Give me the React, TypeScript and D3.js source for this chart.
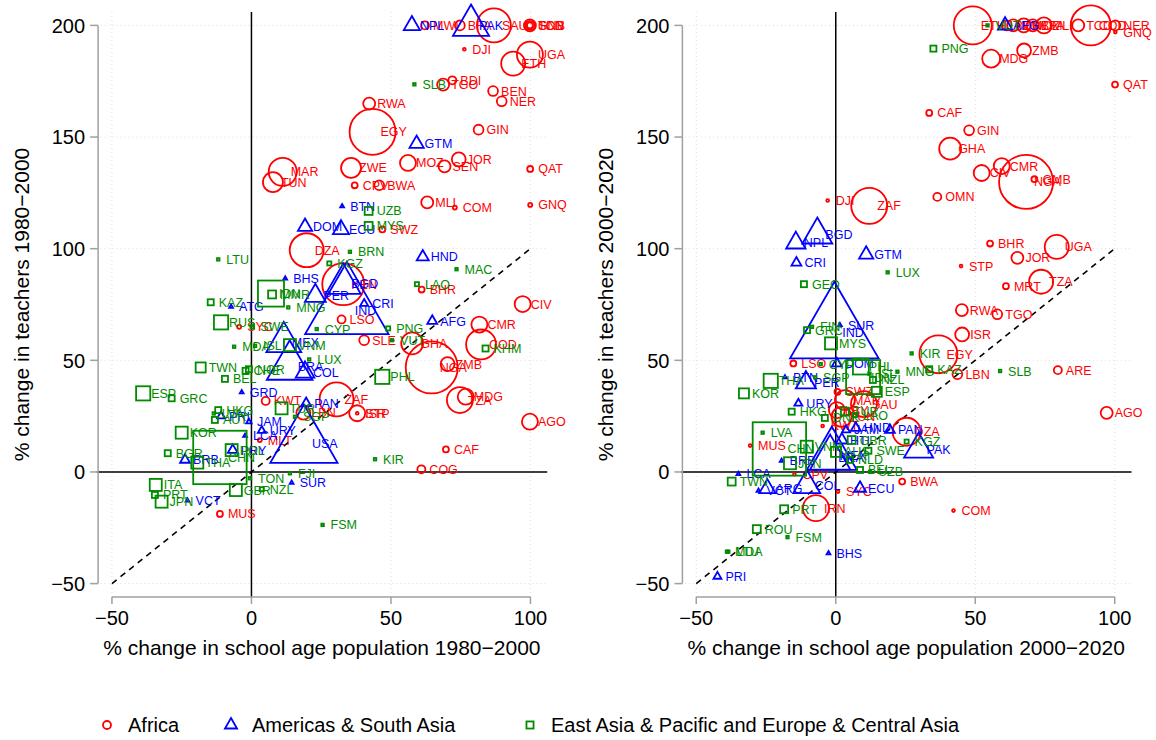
import * as d3 from 'd3';

// [country, % change school-age population, % change teachers, school-age population (m)]
type Pt = [string, number, number, number];

const africa1980: Pt[] = [
  ['MWI', 62.2, 200, 4], ['BFA', 74.7, 200, 6], ['SAU', 86.9, 200, 72],
  ['SDN', 99.8, 200, 9], ['GNB', 99.8, 200, 2.2], ['TCD', 99.8, 200, 5],
  ['DJI', 76.3, 189.3, 0.5], ['UGA', 99.8, 186.9, 42], ['ETH', 93.8, 182.9, 36],
  ['BDI', 72, 175.4, 4], ['TGO', 68.7, 173.5, 9], ['BEN', 86.6, 170.6, 6],
  ['NER', 89.7, 166, 6], ['RWA', 42.2, 165, 9], ['EGY', 43.4, 152.3, 132],
  ['GIN', 81.4, 153.3, 6], ['ZWE', 35.7, 136.2, 25], ['MOZ', 56.1, 138.4, 16],
  ['SEN', 69.2, 136.9, 9], ['JOR', 74.3, 140, 12], ['QAT', 99.9, 135.7, 2.2],
  ['CPV', 37, 128.4, 2.2], ['BWA', 45.8, 128.4, 6], ['MLI', 63, 120.7, 9],
  ['COM', 72.9, 118.4, 1], ['GNQ', 99.9, 119.6, 1], ['SWZ', 46.9, 108.6, 2.2],
  ['MAR', 11.2, 134.4, 49], ['TUN', 7.7, 129.8, 25], ['DZA', 19.8, 99.3, 72],
  ['KEN', 32.9, 84.1, 110], ['BHR', 61, 81.7, 2.2], ['LSO', 32.3, 68.3, 4],
  ['SLE', 40.4, 59, 6], ['CIV', 97.2, 75.2, 16], ['CMR', 81.7, 66, 16],
  ['COD', 82.3, 57.1, 56], ['GHA', 57.6, 57.6, 30], ['NGA', 64.6, 46.8, 169],
  ['ZMB', 70.3, 48.3, 12], ['MDG', 76.8, 33.7, 16], ['TZA', 74.7, 32.2, 42],
  ['AGO', 99.8, 22.5, 16], ['CAF', 69.7, 10.1, 2.2], ['COG', 60.9, 1.2, 4],
  ['ZAF', 30.5, 32.5, 72], ['ISR', 37.9, 26.3, 16], ['STP', 37.9, 26.3, 0.5],
  ['KWT', 5.1, 31.8, 4], ['MLT', 3, 14.3, 1], ['MUS', -11.3, -18.8, 2.2],
  ['SYC', -4.4, 65, 1], ['LBN', 18.6, 26.5, 12],
];

const americas1980: Pt[] = [
  ['NPL', 57.5, 200, 9], ['PAK', 78.7, 200, 45], ['GTM', 59.2, 147, 7],
  ['BTN', 32.5, 119, 0.5], ['ECU', 32.1, 108.6, 9], ['DOM', 19.2, 109.8, 7],
  ['HND', 61.4, 96.3, 5], ['BHS', 12.1, 86.7, 0.5], ['BGD', 32.9, 84.3, 42],
  ['PER', 22.9, 78.9, 15], ['IND', 34.2, 72.5, 240], ['CRI', 40.4, 75.4, 2.2],
  ['AFG', 64.8, 67.6, 3.4], ['ATG', -7.3, 74, 0.5], ['MEX', 11.6, 58.2, 42],
  ['BRA', 13.7, 47.2, 72], ['COL', 19.2, 44.7, 12], ['USA', 18.8, 12.8, 156],
  ['PAN', 19.6, 30.8, 3.4], ['GRD', -3.5, 35.7, 0.5], ['JAM', -0.9, 22.5, 1],
  ['LCA', -2.3, 16.2, 0.5], ['URY', 3.7, 18.5, 2.2], ['VCT', -22.9, -12.8, 0.5],
  ['SUR', 14.4, -4.8, 0.5], ['BRB', -23.8, 5.4, 3.4], ['PRY', -6.7, 9.8, 3.4],
  ['PRI', -10.9, 25, 2.2],
];

const eapEca1980: Pt[] = [
  ['LTU', -11.9, 95.2, 0.5], ['KAZ', -14.6, 76, 2.9], ['RUS', -10.9, 67, 16],
  ['IDN', 7, 79.9, 54], ['MMR', 7.4, 79.5, 5], ['MNG', 13.2, 73.7, 0.5],
  ['SWE', 0.3, 65, 1], ['VNM', 13.8, 56.8, 11.5], ['CYP', 23.4, 64, 0.5],
  ['KGZ', 27.9, 93.4, 1.3], ['BRN', 35.3, 98.6, 0.5], ['UZB', 42, 116.9, 5],
  ['MYS', 42, 110.2, 5], ['SLB', 58.4, 173.6, 0.5], ['LAO', 59.3, 84.1, 1.3],
  ['MAC', 73.5, 90.8, 0.5], ['PNG', 49, 64.3, 1.3], ['KHM', 83.9, 55.3, 2.9],
  ['PHL', 46.9, 42.6, 16], ['VUT', 50.4, 59, 0.5], ['LUX', 20.7, 50.4, 0.5],
  ['TUR', 10.8, 28.5, 11.5], ['SGP', 15.6, 24.7, 0.5], ['NOR', -0.9, 46, 2.9],
  ['CHE', -2.1, 45.3, 2.9], ['BEL', -9.5, 41.7, 2.9], ['TWN', -18.2, 46.8, 8],
  ['MDA', -6.2, 56.1, 0.5], ['ISL', 1.3, 56.5, 0.5], ['ESP', -38.8, 35.2, 16],
  ['GRC', -28.6, 33, 2.9], ['HKG', -11.9, 27.7, 2.9], ['LVA', -13.5, 26.2, 0.5],
  ['AUT', -13.1, 23.3, 2.9], ['KOR', -25, 17.6, 11.5], ['CHN', -11.3, 6.5, 227],
  ['BGR', -30, 8.4, 2.9], ['THA', -19.4, 4.2, 11.5], ['POL', -7.1, 9.8, 11.5],
  ['JPN', -32.2, -13.3, 11.5], ['ITA', -34.3, -5.8, 11.5], ['PRT', -34.6, -10.3, 2.9],
  ['GBR', -5.6, -8.1, 11.5], ['NZL', 3.7, -7.7, 1.3], ['TON', -0.5, -2.8, 0.5],
  ['FJI', 13.8, -0.6, 0.5], ['KIR', 44.3, 5.7, 0.5], ['FSM', 25.5, -23.7, 0.5],
];

const africa2000: Pt[] = [
  ['ETH', 49.1, 200, 90], ['BDI', 61.3, 200, 6], ['MWI', 63.6, 200, 9],
  ['MOZ', 67.4, 200, 12], ['BFA', 70.6, 200, 9], ['MLI', 74.6, 200, 16],
  ['TCD', 86.9, 200, 9], ['COD', 91.4, 200, 100], ['NER', 100.2, 200, 6],
  ['GNQ', 100.2, 197, 0.5], ['ZMB', 67.5, 188.8, 12], ['MDG', 55.7, 185.1, 20],
  ['QAT', 100.1, 173.5, 2.2], ['CAF', 33.5, 160.8, 2.2], ['GIN', 47.8, 153, 6],
  ['GHA', 41, 144.8, 30], ['CMR', 59.5, 137, 16], ['CIV', 52.3, 133.9, 16],
  ['NGA', 68.2, 129.9, 182], ['GMB', 71.2, 131.1, 2.2], ['OMN', 36.4, 123.2, 4],
  ['DJI', -2.9, 121.6, 0.5], ['ZAF', 12, 119.2, 81], ['BHR', 55.3, 102.3, 2.2],
  ['UGA', 79.2, 100.8, 36], ['JOR', 65.1, 95.9, 9], ['STP', 44.9, 92.2, 0.5],
  ['MRT', 61, 83.2, 2.2], ['TZA', 73.6, 85.2, 36], ['RWA', 45.2, 72.5, 9],
  ['TGO', 57.9, 70.6, 6], ['ISR', 45.3, 61.6, 12], ['EGY', 36.8, 52.7, 90],
  ['LBN', 43.6, 43.8, 6], ['ARE', 79.6, 45.6, 4], ['AGO', 97.1, 26.5, 9],
  ['DZA', 25.4, 18, 49], ['BWA', 23.8, -4.3, 2.2], ['COM', 42.2, -17.3, 0.5],
  ['MUS', -30.7, 11.8, 0.5], ['LSO', -15.2, 48.6, 2.2], ['IRN', -7.1, -16.2, 42],
  ['SYC', 0.8, -8.8, 0.5], ['CPV', -14.8, -1, 0.5], ['MAR', 3.3, 32.2, 25],
  ['SAU', 10.1, 30.4, 42], ['SWZ', 0.6, 35.9, 2.2], ['TUN', 2.1, 24.7, 25],
  ['LBY', 0.4, 27.7, 16], ['KWT', -4.7, 20.6, 0.5],
];

const americas2000: Pt[] = [
  ['AFG', 60.7, 200, 7], ['BGD', -6.6, 106.2, 31], ['NPL', -14.3, 102.6, 13],
  ['CRI', -14.1, 93.7, 3.4], ['GTM', 10.9, 97.4, 7], ['IND', -0.5, 62.3, 270],
  ['SUR', 1.5, 65.8, 0.5], ['DOM', 0.4, 48.6, 3.4], ['BTN', -18.2, 42.4, 0.5],
  ['PER', -10.7, 40, 14], ['URY', -13.4, 30.7, 2.2], ['PAN', 19.4, 18.8, 3.4],
  ['PAK', 29.7, 10.2, 29], ['ECU', 8.7, -7.3, 5], ['BHS', -2.6, -36.4, 0.5],
  ['PRI', -42.4, -46.8, 2.2], ['LCA', -34.9, -0.9, 0.5], ['VCT', -27.7, -8.4, 0.5],
  ['COL', -10.4, -6, 25], ['ARG', -24.5, -7.4, 9], ['MEX', -1.4, 7.4, 86],
  ['BRA', -2, 6.3, 56], ['JAM', 3.7, 18.8, 2.2], ['HND', 7.2, 19.7, 3.4],
  ['BRB', -19.4, 5, 0.5], ['HTI', 2.2, 14.3, 5],
];

const eapEca2000: Pt[] = [
  ['VUT', 54.4, 200, 0.5], ['PNG', 35, 189.6, 2.9], ['LUX', 18.6, 89.4, 0.5],
  ['GEO', -11.4, 84.1, 2.9], ['GRC', -10.3, 63.5, 2.9], ['FIN', -8.5, 65, 0.5],
  ['MYS', -1.7, 57.6, 11.5], ['CYP', -5.4, 48.3, 0.5], ['SGP', -7.4, 42.4, 0.5],
  ['THA', -23.3, 40.8, 16], ['KOR', -32.9, 35.2, 8], ['PHL', 9, 47.2, 20],
  ['IDN', 9.8, 42.5, 92], ['CHN', -20.2, 10.3, 227], ['LVA', -26.2, 17.6, 0.5],
  ['MNG', 22.1, 44.9, 0.5], ['KIR', 27.2, 53.1, 0.5], ['KAZ', 33.5, 46, 2.9],
  ['SLB', 58.9, 45.2, 0.5], ['SWE', 11.7, 9.5, 2.9], ['ESP', 14.7, 35.9, 8],
  ['NZL', 13.3, 41.2, 2.9], ['ISL', 12.1, 44, 0.5], ['GBR', 5.7, 14.3, 5],
  ['KGZ', 25.4, 13.6, 1.3], ['HKG', -15.8, 27, 2.9], ['TWN', -37.3, -4.3, 5],
  ['PRT', -18.5, -16.7, 5], ['ROU', -28.3, -25.6, 5], ['FSM', -17.3, -29.2, 0.5],
  ['MDA', -39, -35.7, 0.5], ['LTU', -38.5, -35.7, 0.5], ['UZB', 12.3, 0.1, 0.5],
  ['JPN', -16.4, 3.9, 11.5], ['VNM', -10.4, 11.3, 11.5], ['AUS', 0.1, 9, 8],
  ['TUR', 3.3, 27, 5], ['LAO', 6.9, 25.5, 1.3], ['NLD', 5.1, 5.4, 2.9],
  ['BEL', 8.7, 0.9, 2.9], ['DNK', -3.9, 24.2, 2.9],
];

const xTicks = [-50, 0, 50, 100];
const yTicks = [-50, 0, 50, 100, 150, 200];

const RED = '#ff0000';
const BLUE = '#0000ff';
const GREEN = '#008b00';
const AXIS_FONT = "'Liberation Sans', Arial, sans-serif";

// symbol radius grows with the square root of the school-age population
const rScale = d3.scaleSqrt().domain([0, 100]).range([0, 20]);

type Shape = 'circle' | 'triangle' | 'square';

function Marker({ shape, cx, cy, r, color }: { shape: Shape; cx: number; cy: number; r: number; color: string }) {
  const sw = 1.8;
  if (shape === 'circle') {
    return <circle cx={cx} cy={cy} r={r} fill="none" stroke={color} strokeWidth={sw} />;
  }
  if (shape === 'square') {
    const h = r * 0.886;
    return <rect x={cx - h} y={cy - h} width={2 * h} height={2 * h} fill="none" stroke={color} strokeWidth={sw} />;
  }
  // R's pch = 2 triangle geometry
  const t0 = Math.sqrt((4 * Math.PI) / (3 * Math.sqrt(3)));
  const t1 = (t0 * Math.sqrt(3)) / 2;
  const t2 = t0 / 2;
  const pts = [
    [cx, cy - r * t0],
    [cx + r * t1, cy + r * t2],
    [cx - r * t1, cy + r * t2],
  ];
  return <polygon points={pts.map((p) => p.join(',')).join(' ')} fill="none" stroke={color} strokeWidth={sw} />;
}

const fmt = (t: number) => (t < 0 ? '\u2212' + Math.abs(t) : String(t));

function Panel({ left, groups, xTitle, yTitle }: {
  left: number;
  groups: { data: Pt[]; shape: Shape; color: string }[];
  xTitle: string;
  yTitle: string;
}) {
  const x = d3.scaleLinear().domain([-55.5, 106]).range([left, left + 450.6]);
  const y = d3.scaleLinear().domain([-56, 206]).range([597, 12]);
  const [x0, x1] = x.range();
  const axisX = x0 + 1.5;

  return (
    <g>
      {/* dotted grid */}
      {yTicks.map((t) => (
        <line key={'gy' + t} x1={x0} x2={x1} y1={y(t)} y2={y(t)} stroke="#dcdcdc" strokeDasharray="1,3" />
      ))}
      {xTicks.map((t) => (
        <line key={'gx' + t} x1={x(t)} x2={x(t)} y1={12} y2={597} stroke="#dcdcdc" strokeDasharray="1,3" />
      ))}

      {/* zero lines and 45 degree line */}
      <line x1={x0} x2={x1} y1={y(0)} y2={y(0)} stroke="#000" strokeWidth={1.5} />
      <line x1={x(0)} x2={x(0)} y1={12} y2={597} stroke="#000" strokeWidth={1.5} />
      <line x1={x(-50)} y1={y(-50)} x2={x(100)} y2={y(100)} stroke="#000" strokeWidth={1.6} strokeDasharray="6,5" />

      {/* points and labels */}
      {groups.map((g, gi) => (
        <g key={gi}>
          {g.data.map((d, i) => (
            <Marker key={i} shape={g.shape} cx={x(d[1])} cy={y(d[2])} r={Math.max(1.3, rScale(d[3]))} color={g.color} />
          ))}
          {g.data.map((d, i) => (
            <text key={'t' + i} x={x(d[1]) + 8} y={y(d[2])} dy="0.36em" fill={g.color}
              fontFamily="'Liberation Sans', Arial, sans-serif" fontSize={12.5}>{d[0]}</text>
          ))}
        </g>
      ))}

      {/* y axis */}
      <line x1={axisX} x2={axisX} y1={y(-50)} y2={y(200)} stroke="#a0a0a0" strokeWidth={1.5} />
      {yTicks.map((t) => (
        <g key={'yt' + t}>
          <line x1={axisX - 8} x2={axisX} y1={y(t)} y2={y(t)} stroke="#a0a0a0" strokeWidth={1.5} />
          <text x={axisX - 13} y={y(t)} dy="0.36em" textAnchor="end" fontFamily={AXIS_FONT} fontSize={20}>
            {fmt(t)}
          </text>
        </g>
      ))}
      {/* x axis */}
      <line x1={x(-50)} x2={x(100)} y1={597} y2={597} stroke="#a0a0a0" strokeWidth={1.5} />
      {xTicks.map((t) => (
        <g key={'xt' + t}>
          <line x1={x(t)} x2={x(t)} y1={597} y2={604} stroke="#a0a0a0" strokeWidth={1.5} />
          <text x={x(t)} y={618} dy="0.36em" textAnchor="middle" fontFamily={AXIS_FONT} fontSize={20}>
            {fmt(t)}
          </text>
        </g>
      ))}

      <text x={(x0 + x1) / 2} y={647} dy="0.36em" textAnchor="middle" fontFamily={AXIS_FONT} fontSize={21}>{xTitle}</text>
      <text transform={`translate(${left - 75},${(12 + 597) / 2}) rotate(-90)`} dy="0.36em" textAnchor="middle"
        fontFamily={AXIS_FONT} fontSize={21}>{yTitle}</text>
    </g>
  );
}

const legendItems: { label: string; shape: Shape; color: string }[] = [
  { label: 'Africa', shape: 'circle', color: RED },
  { label: 'Americas & South Asia', shape: 'triangle', color: BLUE },
  { label: 'East Asia & Pacific and Europe & Central Asia', shape: 'square', color: GREEN },
];
const legendX = [107, 231, 530];

export default function App() {
  return (
    <svg width={1156} height={740} style={{ position: 'absolute', left: 0, top: 0, background: '#fff' }}>
      <Panel
        left={96.6}
        groups={[
          { data: africa1980, shape: 'circle', color: RED },
          { data: americas1980, shape: 'triangle', color: BLUE },
          { data: eapEca1980, shape: 'square', color: GREEN },
        ]}
        xTitle={'% change in school age population 1980\u22122000'}
        yTitle={'% change in teachers 1980\u22122000'}
      />
      <Panel
        left={680.9}
        groups={[
          { data: africa2000, shape: 'circle', color: RED },
          { data: americas2000, shape: 'triangle', color: BLUE },
          { data: eapEca2000, shape: 'square', color: GREEN },
        ]}
        xTitle={'% change in school age population 2000\u22122020'}
        yTitle={'% change in teachers 2000\u22122020'}
      />
      {legendItems.map((it, i) => (
        <g key={it.label}>
          <Marker shape={it.shape} cx={legendX[i]} cy={725} r={it.shape === 'triangle' ? 4.5 : 4} color={it.color} />
          <text x={legendX[i] + 21} y={725} dy="0.36em" fontFamily={AXIS_FONT} fontSize={20}>{it.label}</text>
        </g>
      ))}
    </svg>
  );
}
